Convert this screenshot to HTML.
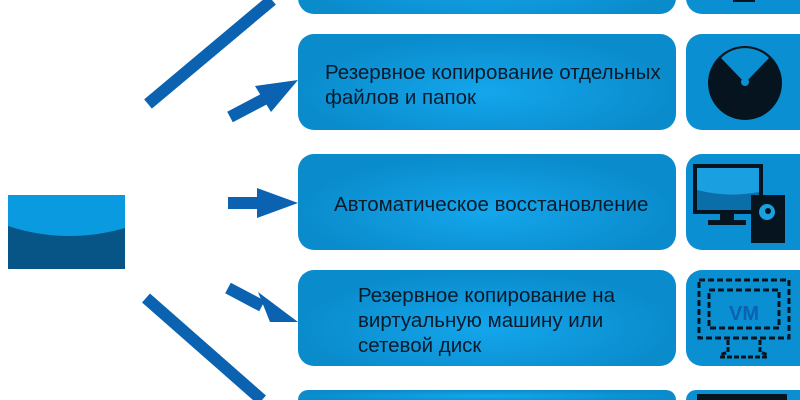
<!DOCTYPE html><html><head><style>
html,body{margin:0;width:800px;height:400px;overflow:hidden}
body{background:#fff;position:relative;font-family:"Liberation Sans",sans-serif}
.b{position:absolute;left:298px;width:378px;height:96px;border-radius:16px;background:radial-gradient(ellipse at 50% 60%,#14a6ec,#0a8ccc 70%);display:flex;align-items:center;color:#0b1a2a;font-size:20.5px;line-height:25px;box-sizing:border-box;padding-top:5px;white-space:nowrap}
.i{position:absolute;left:686px;width:114px;height:96px;border-radius:16px 0 0 16px;background:#0a90d2}
</style></head><body>
<div class="b" style="top:-82px"></div>
<div class="b" style="top:34px;padding-left:27px">Резервное копирование отдельных<br>файлов и папок</div>
<div class="b" style="top:154px;padding-left:36px">Автоматическое восстановление</div>
<div class="b" style="top:270px;padding-left:60px">Резервное копирование на<br>виртуальную машину или<br>сетевой диск</div>
<div class="b" style="top:390px;height:10px;border-radius:10px 10px 0 0"></div>
<div class="i" style="top:-82px"></div>
<div class="i" style="top:34px"></div>
<div class="i" style="top:154px"></div>
<div class="i" style="top:270px"></div>
<div class="i" style="top:390px;height:10px;border-radius:10px 0 0 0"></div>
<svg width="800" height="400" style="position:absolute;left:0;top:0">
<defs><clipPath id="c"><rect x="8" y="195" width="117" height="74"/></clipPath></defs>
<g clip-path="url(#c)"><rect x="8" y="195" width="117" height="74" fill="#0a9ae0"/>
<path d="M8 226 Q66 245 125 228 L125 269 L8 269Z" fill="#075586"/></g>
<g stroke="#0a62b0" stroke-width="12" fill="#0a62b0">
<line x1="148" y1="104" x2="272" y2="0"/>
<line x1="146" y1="298" x2="262" y2="400"/>
<line x1="230" y1="117" x2="270" y2="96"/>
<line x1="228" y1="203" x2="262" y2="203"/>
<line x1="228" y1="288" x2="262" y2="306"/>
</g>
<g fill="#0a62b0">
<polygon points="298,80 255,86 271,112"/>
<polygon points="298,203 257,188 257,218"/>
<polygon points="298,322 258,292 270,322"/>
</g>
<circle cx="745" cy="83" r="37" fill="#05141e"/>
<path d="M745 83 L721 58 A34 34 0 0 1 769 58 Z" fill="#0a90d2"/>
<circle cx="745" cy="82" r="4" fill="#0a90d2"/>
<rect x="693" y="164" width="70" height="50" fill="#05141e"/>
<rect x="697" y="168" width="62" height="42" fill="#1aa0e0"/>
<path d="M697 190 Q728 198 759 192 L759 210 L697 210Z" fill="#0a6fa8"/>
<rect x="720" y="214" width="14" height="8" fill="#05141e"/><rect x="708" y="220" width="38" height="5" fill="#05141e"/>
<rect x="751" y="195" width="34" height="48" fill="#05141e"/>
<circle cx="767" cy="212" r="8" fill="#1aa0e0"/><circle cx="768" cy="211" r="3" fill="#05141e"/>
<rect x="699" y="280" width="90" height="58" fill="none" stroke="#05141e" stroke-width="3" stroke-dasharray="6 3"/>
<rect x="709" y="290" width="70" height="38" fill="none" stroke="#05141e" stroke-width="3" stroke-dasharray="6 3"/>
<text x="744" y="320" font-family="Liberation Sans" font-weight="bold" font-size="20" fill="#0a62b0" text-anchor="middle">VM</text>
<path d="M728 340 L728 352 L720 355 M760 340 L760 352 L768 355 M720 357 L768 357" stroke="#05141e" stroke-width="3" fill="none" stroke-dasharray="5 2"/>
<rect x="733" y="-10" width="22" height="12" fill="#05141e"/>
<rect x="697" y="394" width="90" height="6" fill="#05141e"/>
</svg>
</body></html>
